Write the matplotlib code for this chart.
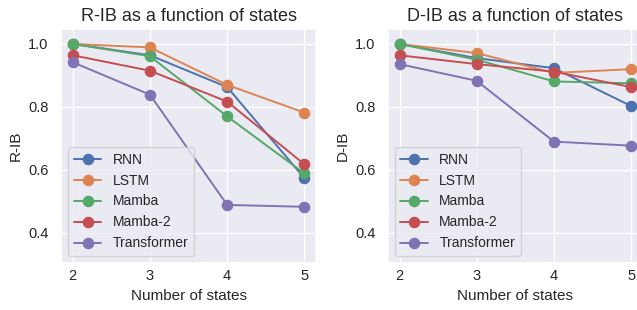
import matplotlib
matplotlib.use("Agg")
import matplotlib.pyplot as plt
import seaborn as sns

states = [2, 3, 4, 5]
models = ["RNN", "LSTM", "Mamba", "Mamba-2", "Transformer"]

rib_rnn = [1.0, 0.964, 0.863, 0.574]
rib_lstm = [1.0, 0.989, 0.870, 0.782]
rib_mamba = [1.0, 0.961, 0.770, 0.589]
rib_mamba2 = [0.964, 0.915, 0.817, 0.618]
rib_transformer = [0.942, 0.839, 0.489, 0.483]

dib_rnn = [1.0, 0.955, 0.923, 0.803]
dib_lstm = [1.0, 0.971, 0.908, 0.920]
dib_mamba = [1.0, 0.950, 0.881, 0.875]
dib_mamba2 = [0.964, 0.936, 0.912, 0.863]
dib_transformer = [0.936, 0.883, 0.690, 0.677]

sns.set_theme(style="darkgrid")
plt.rcParams["font.family"] = ["Liberation Sans", "DejaVu Sans"]

fig = plt.figure(figsize=(6.37, 3.10), dpi=100)
ax1 = fig.add_axes([0.096, 0.152, 0.400, 0.754])
ax2 = fig.add_axes([0.609, 0.152, 0.400, 0.754])

panels = [
    (ax1, [rib_rnn, rib_lstm, rib_mamba, rib_mamba2, rib_transformer], "R-IB"),
    (ax2, [dib_rnn, dib_lstm, dib_mamba, dib_mamba2, dib_transformer], "D-IB"),
]

for ax, series, name in panels:
    for label, vals in zip(models, series):
        ax.plot(states, vals, marker="o", markersize=7.3, linewidth=1.4, label=label)
    ax.set_title(name + " as a function of states", fontsize=13)
    ax.set_xlabel("Number of states", fontsize=11, labelpad=4)
    ax.set_ylabel(name, fontsize=11)
    ax.set_xticks(states)
    ax.set_yticks([0.4, 0.6, 0.8, 1.0])
    ax.set_ylim(0.305, 1.047)
    ax.tick_params(axis="x", labelsize=10.5, length=0, pad=4.5)
    ax.tick_params(axis="y", labelsize=10.5, length=0, pad=9)
    ax.legend(loc="lower left", fontsize=10)

fig.savefig("out.png", dpi=100)
